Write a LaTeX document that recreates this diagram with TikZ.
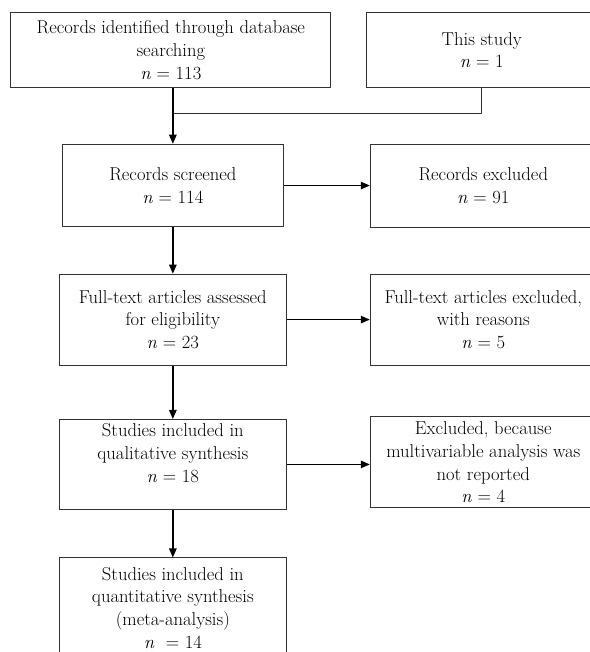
\documentclass[tikz,border=0pt]{standalone}
\usepackage{amsmath}
\usepackage{tikz}
\usetikzlibrary{arrows.meta,positioning,calc}

\tikzset{
  box/.style={draw=black!80, line width=0.9pt, align=center, inner sep=0pt,
    font=\fontsize{18.6}{22.8}\selectfont},
  flow/.style={line width=1.3pt, -{Triangle[length=9pt,width=7.5pt]}},
}

\begin{document}
\begin{tikzpicture}[x=1pt,y=1pt]
    \useasboundingbox (0,0) rectangle (589,-652);

    \node [box, minimum width=320pt, minimum height=75pt] (records) at (170.85,-50.2)
      {Records identified through database\\ searching\\ \textit{n} = 113} ;
    \node [box, minimum width=230pt, minimum height=75pt, right = 35pt of records] (thisstudy)
      {This study\\ \textit{n} = 1} ;

    \node [box, minimum width=221pt, minimum height=82.7pt, below = 55.6pt of records, xshift=2pt] (screened)
      {Records screened\\ \textit{n} = 114} ;
    \node [box, minimum width=226pt, minimum height=83pt, right = 86pt of screened] (excluded)
      {Records excluded\\ \textit{n} = 91} ;

    \node [box, minimum width=227pt, minimum height=91pt, below = 46.3pt of screened] (fulltext)
      {Full-text articles assessed\\ for eligibility\\ \textit{n} = 23} ;
    \node [box, minimum width=226pt, minimum height=91pt, right = 83pt of fulltext] (ftexcluded)
      {Full-text articles excluded,\\ with reasons\\ \textit{n} = 5} ;

    \node [box, minimum width=227pt, minimum height=90pt, below = 53.4pt of fulltext] (qualitative)
      {Studies included in\\ qualitative synthesis\\ \textit{n} = 18\\ \mbox{}} ;
    \node [box, minimum width=226pt, minimum height=91pt, right = 83pt of qualitative, yshift=2pt] (notreported)
      {Excluded, because\\ multivariable analysis was\\ not reported\\ \textit{n} = 4} ;

    \node [box, minimum width=227pt, minimum height=100pt, below = 47.6pt of qualitative] (quantitative)
      {Studies included in\\ quantitative synthesis\\ (meta-analysis)\\ \textit{n}\ \ = 14} ;

    % merge of the two sources
    \coordinate [below = 25pt of records.south -| screened.north] (join) ;
    \draw [line width=1.3pt] (screened.north |- records.south) -- (join) ;
    \draw [line width=0.9pt, black!80] (thisstudy.south) |- (join) ;
    \draw [flow] (join) -- (screened.north) ;

    \draw [flow] (screened) -- (excluded) ;
    \draw [flow] (screened) -- (fulltext) ;
    \draw [flow] (fulltext) -- (ftexcluded) ;
    \draw [flow] (fulltext) -- (qualitative) ;
    \draw [flow] (qualitative.east) -- (qualitative.east -| notreported.west) ;
    \draw [flow] (qualitative) -- (quantitative) ;
\end{tikzpicture}
\end{document}
